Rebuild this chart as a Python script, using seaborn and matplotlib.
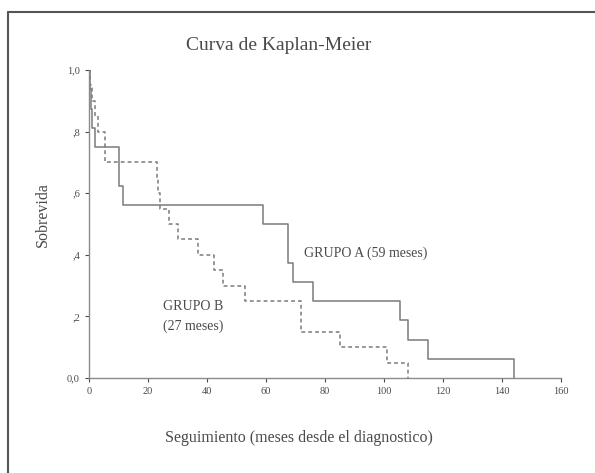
import matplotlib
matplotlib.use("Agg")
import matplotlib.pyplot as plt
from matplotlib.lines import Line2D
import seaborn as sns
import pandas as pd

# Kaplan-Meier step data (time in months, survival after the step)
grupo_a_t = [0, 0.3, 0.6, 0.9, 2, 10, 11.5, 59, 67.5, 69, 76, 105.5, 108, 115, 144]
grupo_a_s = [1.0, 0.9375, 0.875, 0.8125, 0.75, 0.625, 0.5625, 0.5, 0.375, 0.3125, 0.25, 0.1875, 0.125, 0.0625, 0.0]

grupo_b_t = [0, 0.5, 1, 2, 3, 5.5, 23, 23.5, 24, 27, 30, 37, 42.5, 45.5, 53, 72, 85, 101, 108]
grupo_b_s = [1.0, 0.95, 0.9, 0.85, 0.8, 0.7, 0.65, 0.6, 0.55, 0.5, 0.45, 0.4, 0.35, 0.3, 0.25, 0.15, 0.1, 0.05, 0.0]

x_ticks = [0, 20, 40, 60, 80, 100, 120, 140, 160]
y_ticks = [0.0, 0.2, 0.4, 0.6, 0.8, 1.0]
y_tick_labels = ["0,0", ",2", ",4", ",6", ",8", "1,0"]

df = pd.concat([
    pd.DataFrame({"t": grupo_a_t, "s": grupo_a_s, "grupo": "A"}),
    pd.DataFrame({"t": grupo_b_t, "s": grupo_b_s, "grupo": "B"}),
])

sns.set_style("white")
plt.rcParams["font.family"] = ["Liberation Serif", "DejaVu Serif"]

fig = plt.figure(figsize=(5.95, 4.73), dpi=100)
ax = fig.add_axes([0.1496, 0.2008, 0.7934, 0.6512])

line_color = "#7a7a7a"
text_color = "#4a4a4a"

sns.lineplot(data=df, x="t", y="s", hue="grupo", style="grupo",
             palette={"A": line_color, "B": line_color},
             dashes={"A": "", "B": (2.5, 2)},
             drawstyle="steps-post", linewidth=1.1, legend=False,
             ax=ax, estimator=None, sort=False)

ax.set_xlim(0, 160)
ax.set_ylim(0, 1.0)
ax.set_xticks(x_ticks)
ax.set_xticklabels([str(v) for v in x_ticks])
ax.set_yticks(y_ticks)
ax.set_yticklabels(y_tick_labels)
ax.tick_params(axis="both", labelsize=7.5, colors=text_color, length=3, width=0.8,
               direction="out", bottom=True, left=True)
for s in ["top", "right"]:
    ax.spines[s].set_visible(False)
for s in ["left", "bottom"]:
    ax.spines[s].set_color("#8a8a8a")
    ax.spines[s].set_linewidth(1.0)

ax.set_xlabel("Seguimiento (meses desde el diagnostico)", fontsize=11.5,
              color=text_color)
ax.xaxis.set_label_coords(0.445, -0.17)
ax.set_ylabel("Sobrevida", fontsize=11.5, color=text_color)
ax.yaxis.set_label_coords(-0.08, 0.53)
fig.text(279 / 595, 1 - 45 / 473, "Curva de Kaplan-Meier", fontsize=14,
         color=text_color, ha="center", va="center")

ax.text(73, 0.405, "GRUPO A (59 meses)", fontsize=10, color=text_color,
        ha="left", va="center")
ax.text(25, 0.20, "GRUPO B\n(27 meses)", fontsize=10, color=text_color,
        ha="left", va="center", linespacing=1.6)

# outer frame lines (top and left)
fig.add_artist(Line2D([8 / 595, 8 / 595], [0, 1 - 12 / 473],
                      transform=fig.transFigure, color="#555555", lw=1.5))
fig.add_artist(Line2D([8 / 595, 1], [1 - 12 / 473, 1 - 12 / 473],
                      transform=fig.transFigure, color="#555555", lw=1.5))

fig.savefig("out.png", dpi=100)
